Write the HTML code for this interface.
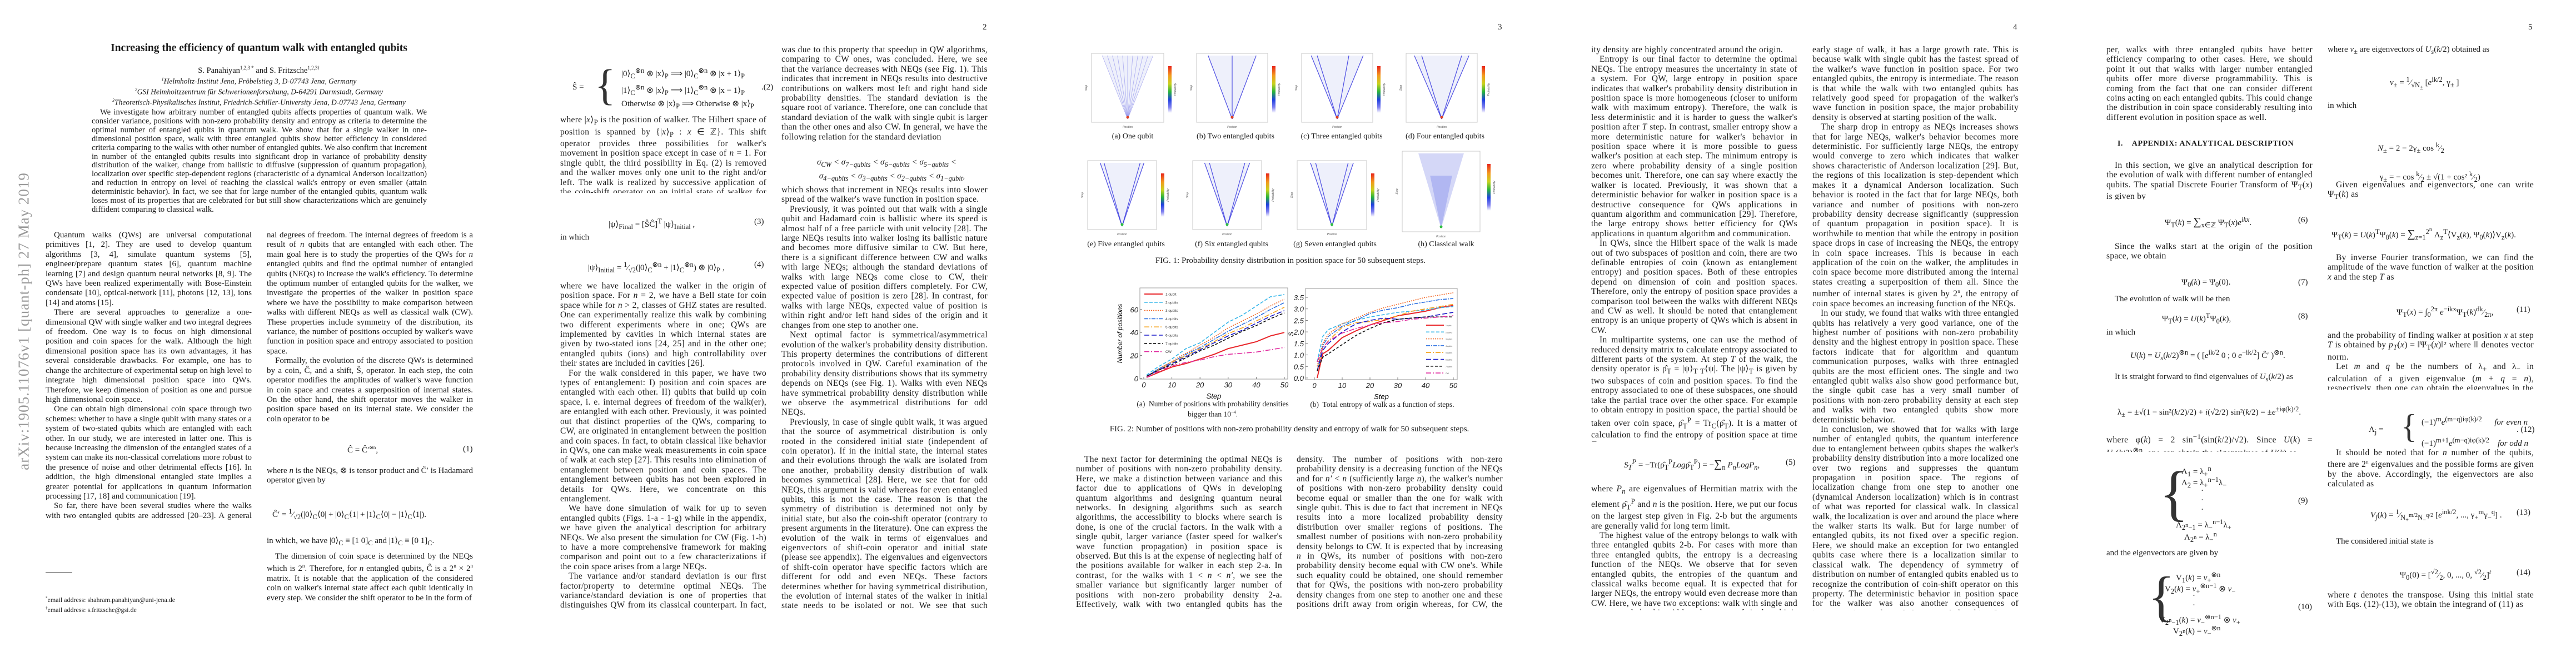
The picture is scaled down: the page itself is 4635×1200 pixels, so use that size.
<!DOCTYPE html>
<html><head><meta charset="utf-8">
<style>
html,body{margin:0;padding:0;background:#fff;}
body{width:4635px;height:1200px;position:relative;overflow:hidden;font-family:"Liberation Serif",serif;color:#1a1a1a;}
.col{position:absolute;width:371px;font-size:15.5px;letter-spacing:0.3px;line-height:17.4px;text-align:justify;overflow:hidden;hyphens:auto;}
.col p{margin:0;text-indent:15px;}
.col p.ni{text-indent:0;}
.p1{font-size:15px;letter-spacing:0;}
.eq{position:absolute;font-size:15px;white-space:nowrap;font-family:"Liberation Serif",serif;}
.pn{position:absolute;top:41px;font-size:15px;}
.cap{position:absolute;font-size:14px;white-space:nowrap;transform:translateX(-50%);}
i{font-style:italic;}
</style></head><body>

<div style="position:absolute;left:43px;top:578px;transform:translate(-50%,-50%) rotate(-90deg);font-size:27px;color:#9a9a9a;white-space:nowrap;letter-spacing:1px;">arXiv:1905.11076v1  [quant-ph]  27 May 2019</div>

<!-- PAGE 1 -->
<div style="position:absolute;left:466px;top:76px;transform:translateX(-50%);font-size:19.5px;font-weight:bold;white-space:nowrap;">Increasing the efficiency of quantum walk with entangled qubits</div>
<div style="position:absolute;left:466px;top:117px;transform:translateX(-50%);font-size:14.5px;white-space:nowrap;">S. Panahiyan<sup style="font-size:9px">1,2,3 *</sup> and S. Fritzsche<sup style="font-size:9px">1,2,3†</sup></div>
<div style="position:absolute;left:466px;top:135px;transform:translateX(-50%);font-size:13.5px;line-height:15.7px;font-style:italic;text-align:center;white-space:nowrap;"><sup style="font-size:8px">1</sup>Helmholtz-Institut Jena, Fröbelstieg 3, D-07743 Jena, Germany<br><sup style="font-size:8px">2</sup>GSI Helmholtzzentrum für Schwerionenforschung, D-64291 Darmstadt, Germany<br><sup style="font-size:8px">3</sup>Theoretisch-Physikalisches Institut, Friedrich-Schiller-University Jena, D-07743 Jena, Germany</div>
<div class="col p1" style="left:165px;top:195px;width:603px;height:192px;font-size:14.6px;line-height:15.9px;"><p>We investigate how arbitrary number of entangled qubits affects properties of quantum walk. We consider variance, positions with non-zero probability density and entropy as criteria to determine the optimal number of entangled qubits in quantum walk. We show that for a single walker in one-dimensional position space, walk with three entangled qubits show better efficiency in considered criteria comparing to the walks with other number of entangled qubits. We also confirm that increment in number of the entangled qubits results into significant drop in variance of probability density distribution of the walker, change from ballistic to diffusive (suppression of quantum propagation), localization over specific step-dependent regions (characteristic of a dynamical Anderson localization) and reduction in entropy on level of reaching the classical walk's entropy or even smaller (attain deterministic behavior). In fact, we see that for large number of the entangled qubits, quantum walk loses most of its properties that are celebrated for but still show characterizations which are genuinely diffident comparing to classical walk.</p></div>

<div class="col p1" style="left:82px;top:415px;height:522px;"><p>Quantum walks (QWs) are universal computational primitives [1, 2]. They are used to develop quantum algorithms [3, 4], simulate quantum systems [5], engineer/prepare quantum states [6], quantum machine learning [7] and design quantum neural networks [8, 9]. The QWs have been realized experimentally with Bose-Einstein condensate [10], optical-network [11], photons [12, 13], ions [14] and atoms [15].</p><p>There are several approaches to generalize a one-dimensional QW with single walker and two integral degrees of freedom. One way is to focus on high dimensional position and coin spaces for the walk. Although the high dimensional position space has its own advantages, it has several considerable drawbacks. For example, one has to change the architecture of experimental setup on high level to integrate high dimensional position space into QWs. Therefore, we keep dimension of position as one and pursue high dimensional coin space.</p><p>One can obtain high dimensional coin space through two schemes: whether to have a single qubit with many states or a system of two-stated qubits which are entangled with each other. In our study, we are interested in latter one. This is because increasing the dimension of the entangled states of a system can make its non-classical correlations more robust to the presence of noise and other detrimental effects [16]. In addition, the high dimensional entangled state implies a greater potential for applications in quantum information processing [17, 18] and communication [19].</p><p>So far, there have been several studies where the walks with two entangled qubits are addressed [20–23]. A general investigation for arbitrary number of entangled qubits yet to be made. In this paper, we consider a single walker in one dimensional position space with 2<sup style="font-size:9px">n</sup> inter-</p></div>
<div style="position:absolute;left:82px;top:1030px;width:48px;border-top:1px solid #333;"></div>
<div style="position:absolute;left:82px;top:1069px;font-size:12px;line-height:15px;white-space:nowrap;"><sup style="font-size:7px">*</sup>email address: shahram.panahiyan@uni-jena.de<br><sup style="font-size:7px">†</sup>email address: s.fritzsche@gsi.de</div>

<div class="col p1" style="left:480px;top:415px;height:348px;"><p class="ni">nal degrees of freedom. The internal degrees of freedom is a result of <i>n</i> qubits that are entangled with each other. The main goal here is to study the properties of the QWs for <i>n</i> entangled qubits and find the optimal number of entangled qubits (NEQs) to increase the walk's efficiency. To determine the optimum number of entangled qubits for the walker, we investigate the properties of the walker in position space where we have the possibility to make comparison between walks with different NEQs as well as classical walk (CW). These properties include symmetry of the distribution, its variance, the number of positions occupied by walker's wave function in position space and entropy associated to position space.</p><p>Formally, the evolution of the discrete QWs is determined by a coin, Ĉ, and a shift, Ŝ, operator. In each step, the coin operator modifies the amplitudes of walker's wave function in coin space and creates a superposition of internal states. On the other hand, the shift operator moves the walker in position space based on its internal state. We consider the coin operator to be</p></div>
<div class="eq" style="left:625px;top:800px;">Ĉ = Ĉ′<sup style="font-size:9px">⊗n</sup>,</div>
<div class="eq" style="left:833px;top:800px;">(1)</div>
<div class="col p1" style="left:480px;top:839px;height:35px;"><p class="ni">where <i>n</i> is the NEQs, ⊗ is tensor product and Ĉ′ is Hadamard operator given by</p></div>
<div class="eq" style="left:490px;top:913px;">Ĉ′ = <sup>1</sup>⁄<sub>√2</sub>(|0⟩<sub>C</sub>⟨0| + |0⟩<sub>C</sub>⟨1| + |1⟩<sub>C</sub>⟨0| − |1⟩<sub>C</sub>⟨1|).</div>
<div class="eq" style="left:480px;top:963px;">in which, we have |0⟩<sub>C</sub> ≡ [1 0]<sub>C</sub> and |1⟩<sub>C</sub> ≡ [0 1]<sub>C</sub>.</div>
<div class="col p1" style="left:480px;top:993px;height:105px;"><p>The dimension of coin space is determined by the NEQs which is 2<sup style="font-size:9px">n</sup>. Therefore, for <i>n</i> entangled qubits, Ĉ is a 2<sup style="font-size:9px">n</sup> × 2<sup style="font-size:9px">n</sup> matrix. It is notable that the application of the considered coin on walker's internal state affect each qubit identically in every step. We consider the shift operator to be in the form of</p></div>

<!-- PAGE 2 -->
<div class="pn" style="left:1768px;">2</div>
<div class="eq" style="left:1030px;top:112px;line-height:30px;"><span style="position:absolute;left:0;top:30px;">Ŝ =</span><span style="position:absolute;left:40px;top:-4px;font-size:78px;line-height:90px;color:#333;">{</span><span style="position:absolute;left:88px;top:0;">|0⟩<sub>C</sub><sup>⊗n</sup> ⊗ |x⟩<sub>P</sub> ⟹ |0⟩<sub>C</sub><sup>⊗n</sup> ⊗ |x + 1⟩<sub>P</sub></span><span style="position:absolute;left:88px;top:30px;">|1⟩<sub>C</sub><sup>⊗n</sup> ⊗ |x⟩<sub>P</sub> ⟹ |1⟩<sub>C</sub><sup>⊗n</sup> ⊗ |x − 1⟩<sub>P</sub></span><span style="position:absolute;left:340px;top:30px;">.(2)</span><span style="position:absolute;left:88px;top:60px;">Otherwise ⊗ |x⟩<sub>P</sub> ⟹ Otherwise ⊗ |x⟩<sub>P</sub></span></div>
<div class="col" style="left:1008px;top:207px;height:140px;"><p class="ni">where |<i>x</i>⟩<sub>P</sub> is the position of walker. The Hilbert space of position is spanned by {|<i>x</i>⟩<sub>P</sub> : <i>x</i> ∈ ℤ}. This shift operator provides three possibilities for walker's movement in position space except in case of <i>n</i> = 1. For single qubit, the third possibility in Eq. (2) is removed and the walker moves only one unit to the right and/or left. The walk is realized by successive application of the coin-shift operator on an initial state of walker for arbitrary times, <i>T</i>,</p></div>
<div class="eq" style="left:1095px;top:391px;">|ψ⟩<sub>Final</sub> = [ŜĈ]<sup>T</sup> |ψ⟩<sub>Initial</sub> ,</div>
<div class="eq" style="left:1357px;top:391px;">(3)</div>
<div class="eq" style="left:1008px;top:419px;">in which</div>
<div class="eq" style="left:1058px;top:468px;">|ψ⟩<sub>Initial</sub> = <sup>1</sup>⁄<sub>√2</sub>(|0⟩<sub>C</sub><sup>⊗n</sup> + |1⟩<sub>C</sub><sup>⊗n</sup>) ⊗ |0⟩<sub>P</sub> ,</div>
<div class="eq" style="left:1357px;top:468px;">(4)</div>
<div class="col" style="left:1008px;top:506px;height:592px;"><p class="ni">where we have localized the walker in the origin of position space. For <i>n</i> = 2, we have a Bell state for coin space while for <i>n</i> &gt; 2, classes of GHZ states are resulted. One can experimentally realize this walk by combining two different experiments where in one; QWs are implemented by cavities in which internal states are given by two-stated ions [24, 25] and in the other one; entangled qubits (ions) and high controllability over their states are included in cavities [26].</p><p>For the walk considered in this paper, we have two types of entanglement: I) position and coin spaces are entangled with each other. II) qubits that build up coin space, i. e. internal degrees of freedom of the walk(er), are entangled with each other. Previously, it was pointed out that distinct properties of the QWs, comparing to CW, are originated in entanglement between the position and coin spaces. In fact, to obtain classical like behavior in QWs, one can make weak measurements in coin space of walk at each step [27]. This results into elimination of entanglement between position and coin spaces. The entanglement between qubits has not been explored in details for QWs. Here, we concentrate on this entanglement.</p><p>We have done simulation of walk for up to seven entangled qubits (Figs. 1-a - 1-g) while in the appendix, we have given the analytical description for arbitrary NEQs. We also present the simulation for CW (Fig. 1-h) to have a more comprehensive framework for making comparison and point out to a few characterizations if the coin space arises from a large NEQs.</p><p>The variance and/or standard deviation is our first factor/property to determine optimal NEQs. The variance/standard deviation is one of properties that distinguishes QW from its classical counterpart. In fact, it</p></div>
<div class="col" style="left:1406px;top:81px;height:175px;"><p class="ni">was due to this property that speedup in QW algorithms, comparing to CW ones, was concluded. Here, we see that the variance decreases with NEQs (see Fig. 1). This indicates that increment in NEQs results into destructive contributions on walkers most left and right hand side probability densities. The standard deviation is the square root of variance. Therefore, one can conclude that standard deviation of the walk with single qubit is larger than the other ones and also CW. In general, we have the following relation for the standard deviation</p></div>
<div class="eq" style="left:1470px;top:282px;line-height:21px;font-style:italic;">σ<sub>CW</sub> &lt; σ<sub>7−qubits</sub> &lt; σ<sub>6−qubits</sub> &lt; σ<sub>5−qubits</sub> &lt;<br>&nbsp;σ<sub>4−qubits</sub> &lt; σ<sub>3−qubits</sub> &lt; σ<sub>2−qubits</sub> &lt; σ<sub>1−qubit</sub>,</div>
<div class="col" style="left:1406px;top:333px;height:766px;"><p class="ni">which shows that increment in NEQs results into slower spread of the walker's wave function in position space.</p><p>Previously, it was pointed out that walk with a single qubit and Hadamard coin is ballistic where its speed is almost half of a free particle with unit velocity [28]. The large NEQs results into walker losing its ballistic nature and becomes more diffusive similar to CW. But here, there is a significant difference between CW and walks with large NEQs; although the standard deviations of walks with large NEQs come close to CW, their expected value of position differs completely. For CW, expected value of position is zero [28]. In contrast, for walks with large NEQs, expected value of position is within right and/or left hand sides of the origin and it changes from one step to another one.</p><p>Next optimal factor is symmetrical/asymmetrical evolution of the walker's probability density distribution. This property determines the contributions of different protocols involved in QW. Careful examination of the probability density distributions shows that its symmetry depends on NEQs (see Fig. 1). Walks with even NEQs have symmetrical probability density distribution while we observe the asymmetrical distributions for odd NEQs.</p><p>Previously, in case of single qubit walk, it was argued that the source of asymmetrical distribution is only rooted in the considered initial state (independent of coin operator). If in the initial state, the internal states and their evolutions through the walk are isolated from one another, probability density distribution of walk becomes symmetrical [28]. Here, we see that for odd NEQs, this argument is valid whereas for even entangled qubits, this is not the case. The reason is that the symmetry of distribution is determined not only by initial state, but also the coin-shift operator (contrary to present arguments in the literature). One can express the evolution of the walk in terms of eigenvalues and eigenvectors of shift-coin operator and initial state (please see appendix). The eigenvalues and eigenvectors of shift-coin operator have specific factors which are different for odd and even NEQs. These factors determines whether for having symmetrical distribution, the evolution of internal states of the walker in initial state needs to be isolated or not. We see that such isolation is necessary for odd NEQs.</p></div>

<!-- PAGE 3 -->
<div class="pn" style="left:2695px;">3</div>
<div class="cap" style="left:2038px;top:238px;">(a) One qubit</div>
<div class="cap" style="left:2223px;top:238px;">(b) Two entangled qubits</div>
<div class="cap" style="left:2414px;top:238px;">(c) Three entangled qubits</div>
<div class="cap" style="left:2600px;top:238px;">(d) Four entangled qubits</div>
<div class="cap" style="left:2026px;top:432px;">(e) Five entangled qubits</div>
<div class="cap" style="left:2216px;top:432px;">(f) Six entangled qubits</div>
<div class="cap" style="left:2402px;top:432px;">(g) Seven entangled qubits</div>
<div class="cap" style="left:2602px;top:432px;">(h) Classical walk</div>
<div class="cap" style="left:2322px;top:461px;font-size:15px;">FIG. 1: Probability density distribution in position space for 50 subsequent steps.</div>
<div class="cap" style="left:2182px;top:720px;font-size:13.5px;line-height:14.5px;text-align:center;">(a)&nbsp; Number of positions with probability densities<br>bigger than 10<sup style="font-size:8px">−4</sup>.</div>
<div class="cap" style="left:2487px;top:720px;font-size:13.5px;">(b)&nbsp; Total entropy of walk as a function of steps.</div>
<div class="cap" style="left:2320px;top:764px;font-size:15px;">FIG. 2: Number of positions with non-zero probability density and entropy of walk for 50 subsequent steps.</div>
<div class="col" style="left:1936px;top:818px;height:280px;"><p>The next factor for determining the optimal NEQs is number of positions with non-zero probability density. Here, we make a distinction between variance and this factor due to applications of QWs in developing quantum algorithms and designing quantum neural networks. In designing algorithms such as search algorithms, the accessibility to blocks where search is done, is one of the crucial factors. In the walk with a single qubit, larger variance (faster speed for walker's wave function propagation) in position space is observed. But this is at the expense of neglecting half of the positions available for walker in each step 2-a. In contrast, for the walks with 1 &lt; <i>n</i> &lt; <i>n′</i>, we see the smaller variance but significantly larger number of positions with non-zero probability density 2-a. Effectively, walk with two entangled qubits has the largest number of positions with non-zero probability</p></div>
<div class="col" style="left:2333px;top:818px;height:280px;"><p class="ni">density. The number of positions with non-zero probability density is a decreasing function of the NEQs and for <i>n′</i> &lt; <i>n</i> (sufficiently large <i>n</i>), the walker's number of positions with non-zero probability density could become equal or smaller than the one for walk with single qubit. This is due to fact that increment in NEQs results into a more localized probability density distribution over smaller regions of positions. The smallest number of positions with non-zero probability density belongs to CW. It is expected that by increasing <i>n</i> in QWs, its number of positions with non-zero probability density become equal with CW one's. While such equality could be obtained, one should remember that for QWs, the positions with non-zero probability density changes from one step to another one and these positions drift away from origin whereas, for CW, the positions with non-zero probabil-</p></div>

<!-- PAGE 4 -->
<div class="pn" style="left:3622px;">4</div>
<div class="col" style="left:2863px;top:81px;height:714px;"><p class="ni">ity density are highly concentrated around the origin.</p><p>Entropy is our final factor to determine the optimal NEQs. The entropy measures the uncertainty in state of a system. For QW, large entropy in position space indicates that walker's probability density distribution in position space is more homogeneous (closer to uniform walk with maximum entropy). Therefore, the walk is less deterministic and it is harder to guess the walker's position after <i>T</i> step. In contrast, smaller entropy show a more deterministic nature for walker's behavior in position space where it is more possible to guess walker's position at each step. The minimum entropy is zero where probability density of a single position becomes unit. Therefore, one can say where exactly the walker is located. Previously, it was shown that a deterministic behavior for walker in position space is a destructive consequence for QWs applications in quantum algorithm and communication [29]. Therefore, the large entropy shows better efficiency for QWs applications in quantum algorithm and communication.</p><p>In QWs, since the Hilbert space of the walk is made out of two subspaces of position and coin, there are two definable entropies of coin (known as entanglement entropy) and position spaces. Both of these entropies depend on dimension of coin and position spaces. Therefore, only the entropy of position space provides a comparison tool between the walks with different NEQs and CW as well. It should be noted that entanglement entropy is an unique property of QWs which is absent in CW.</p><p>In multipartite systems, one can use the method of reduced density matrix to calculate entropy associated to different parts of the system. At step <i>T</i> of the walk, the density operator is ρ̂<sub>T</sub> = |ψ⟩<sub>T T</sub>⟨ψ|. The |ψ⟩<sub>T</sub> is given by two subspaces of coin and position spaces. To find the entropy associated to one of these subspaces, one should take the partial trace over the other space. For example to obtain entropy in position space, the partial should be taken over coin space, ρ̂<sub>T</sub><sup>P</sup> = Tr<sub>C</sub>(ρ̂<sub>T</sub>). It is a matter of calculation to find the entropy of position space at time <i>T</i> as</p></div>
<div class="eq" style="left:2922px;top:824px;"><i>S<sub>T</sub><sup>P</sup></i> = −Tr(ρ̂<sub>T</sub><sup>P</sup><i>Log</i>ρ̂<sub>T</sub><sup>P</sup>) = −<span style="font-size:20px">∑</span><sub>n</sub> <i>P<sub>n</sub>LogP<sub>n</sub></i>,</div>
<div class="eq" style="left:3213px;top:824px;">(5)</div>
<div class="col" style="left:2863px;top:871px;height:227px;"><p class="ni">where <i>P<sub>n</sub></i> are eigenvalues of Hermitian matrix with the element ρ̂<sub>T</sub><sup>P</sup> and <i>n</i> is the position. Here, we put our focus on the largest step given in Fig. 2-b but the arguments are generally valid for long term limit.</p><p>The highest value of the entropy belongs to walk with three entangled qubits 2-b. For cases with more than three entangled qubits, the entropy is a decreasing function of the NEQs. We observe that for seven entangled qubits, the entropies of the quantum and classical walks become equal. It is expected that for larger NEQs, the entropy would even decrease more than CW. Here, we have two exceptions: walk with single and two entangled qubits. Although entropy of single qubit is small at</p></div>
<div class="col" style="left:3261px;top:81px;height:1017px;"><p class="ni">early stage of walk, it has a large growth rate. This is because walk with single qubit has the fastest spread of the walker's wave function in position space. For two entangled qubits, the entropy is intermediate. The reason is that while the walk with two entangled qubits has relatively good speed for propagation of the walker's wave function in position space, the major probability density is observed at starting position of the walk.</p><p>The sharp drop in entropy as NEQs increases shows that for large NEQs, walker's behavior becomes more deterministic. For sufficiently large NEQs, the entropy would converge to zero which indicates that walker shows characteristic of Anderson localization [29]. But, the regions of this localization is step-dependent which makes it a dynamical Anderson localization. Such behavior is rooted in the fact that for large NEQs, both variance and number of positions with non-zero probability density decrease significantly (suppression of quantum propagation in position space). It is worthwhile to mention that while the entropy in position space drops in case of increasing the NEQs, the entropy in coin space increases. This is because in each application of the coin on the walker, the amplitudes in coin space become more distributed among the internal states creating a superposition of them all. Since the number of internal states is given by 2<sup style="font-size:9px">n</sup>, the entropy of coin space becomes an increasing function of the NEQs.</p><p>In our study, we found that walks with three entangled qubits has relatively a very good variance, one of the highest number of positions with non-zero probability density and the highest entropy in position space. These factors indicate that for algorithm and quantum communication purposes, walks with three entnagled qubits are the most efficient ones. The single and two entangled qubit walks also show good performance but, the single qubit case has a very small number of positions with non-zero probability density at each step and walks with two entangled qubits show more deterministic behavior.</p><p>In conclusion, we showed that for walks with large number of entangled qubits, the quantum interference due to entanglement between qubits shapes the walker's probability density distribution into a more localized one over two regions and suppresses the quantum propagation in position space. The regions of localization change from one step to another one (dynamical Anderson localization) which is in contrast of what was reported for classical walk. In classical walk, the localization is over and around the place where the walker starts its walk. But for large number of entangled qubits, its not fixed over a specific region. Here, we should make an exception for two entangled qubits case where there is a localization similar to classical walk. The dependency of symmetry of distribution on number of entangled qubits enabled us to recognize the contribution of coin-shift operator on this property. The deterministic behavior in position space for the walker was also another consequences of increment in number of the entangled qubits. It was highlighted that based on considered criteria in this pa-</p></div>

<!-- PAGE 5 -->
<div class="pn" style="left:4549px;">5</div>
<div class="col" style="left:3790px;top:81px;height:140px;"><p class="ni">per, walks with three entangled qubits have better efficiency comparing to other cases. Here, we should point it out that walks with larger number entangled qubits offer more diverse programmability. This is coming from the fact that one can consider different coins acting on each entangled qubits. This could change the distribution in coin space considerably resulting into different evolution in position space as well.</p></div>
<div class="eq" style="left:3810px;top:251px;font-weight:bold;font-size:14px;letter-spacing:0.6px;">I.&nbsp;&nbsp;&nbsp; APPENDIX: ANALYTICAL DESCRIPTION</div>
<div class="col" style="left:3790px;top:289px;height:70px;"><p>In this section, we give an analytical description for the evolution of walk with different number of entangled qubits. The spatial Discrete Fourier Transform of Ψ<sub>T</sub>(<i>x</i>) is given by</p></div>
<div class="eq" style="left:3895px;top:388px;">Ψ<sub>T</sub>(<i>k</i>) = <span style="font-size:20px">∑</span><sub>x∈ℤ</sub> Ψ<sub>T</sub>(<i>x</i>)<i>e<sup>ikx</sup></i>.</div>
<div class="eq" style="left:4135px;top:388px;">(6)</div>
<div class="col" style="left:3790px;top:435px;height:36px;"><p>Since the walks start at the origin of the position space, we obtain</p></div>
<div class="eq" style="left:3925px;top:500px;">Ψ<sub>0</sub>(<i>k</i>) = Ψ<sub>0</sub>(0).</div>
<div class="eq" style="left:4135px;top:500px;">(7)</div>
<div class="eq" style="left:3805px;top:530px;">The evolution of walk will be then</div>
<div class="eq" style="left:3890px;top:561px;">Ψ<sub>T</sub>(<i>k</i>) = <i>U</i>(<i>k</i>)<sup>T</sup>Ψ<sub>0</sub>(<i>k</i>),</div>
<div class="eq" style="left:4135px;top:561px;">(8)</div>
<div class="eq" style="left:3790px;top:590px;">in which</div>
<div class="eq" style="left:3833px;top:626px;"><i>U</i>(<i>k</i>) = <i>U<sub>s</sub></i>(<i>k</i>/2)<sup>⊗n</sup> = ( [<i>e</i><sup>ik/2</sup> 0 ; 0 <i>e</i><sup>−ik/2</sup>] Ĉ′ )<sup>⊗n</sup>.</div>
<div class="eq" style="left:3805px;top:670px;">It is straight forward to find eigenvalues of <i>U<sub>s</sub></i>(<i>k</i>/2) as</div>
<div class="eq" style="left:3810px;top:729px;">λ<sub>±</sub> = ±√(1 − sin²(<i>k</i>/2)/2) + <i>i</i>(√2/2) sin²(<i>k</i>/2) = ±<i>e</i><sup>±iφ(k)/2</sup>.</div>
<div class="col" style="left:3790px;top:777px;height:36px;"><p class="ni">where φ(<i>k</i>) = 2 sin<sup>−1</sup>(sin(<i>k</i>/2)/√2). Since <i>U</i>(<i>k</i>) = <i>U<sub>s</sub></i>(<i>k</i>/2)<sup>⊗n</sup>, one can obtain the eigenvalues of <i>U</i>(<i>k</i>) as</p></div>
<div class="eq" style="left:3905px;top:835px;line-height:17px;"><span style="position:absolute;left:-20px;top:-8px;font-size:110px;line-height:120px;color:#333;">{</span><span style="position:absolute;left:20px;top:0;">Λ<sub>1</sub> = λ<sub>+</sub><sup>n</sup></span><span style="position:absolute;left:20px;top:20px;">Λ<sub>2</sub> = λ<sub>+</sub><sup>n−1</sup>λ<sub>−</sub></span><span style="position:absolute;left:55px;top:40px;">·<br>·<br>·</span><span style="position:absolute;left:10px;top:96px;">Λ<sub>2<sup>n</sup>−1</sub> = λ<sub>−</sub><sup>n−1</sup>λ<sub>+</sub></span><span style="position:absolute;left:25px;top:118px;">Λ<sub>2<sup>n</sup></sub> = λ<sub>−</sub><sup>n</sup></span><span style="position:absolute;left:230px;top:58px;">(9)</span></div>
<div class="eq" style="left:3790px;top:987px;">and the eigenvectors are given by</div>
<div class="eq" style="left:3885px;top:1026px;line-height:17px;"><span style="position:absolute;left:-20px;top:-8px;font-size:100px;line-height:110px;color:#333;">{</span><span style="position:absolute;left:30px;top:0;">V<sub>1</sub>(<i>k</i>) = <i>v</i><sub>+</sub><sup>⊗n</sup></span><span style="position:absolute;left:10px;top:20px;">V<sub>2</sub>(<i>k</i>) = <i>v</i><sub>+</sub><sup>⊗n−1</sup> ⊗ <i>v</i><sub>−</sub></span><span style="position:absolute;left:60px;top:38px;">·<br>·</span><span style="position:absolute;left:0;top:76px;">V<sub>2<sup>n</sup>−1</sub>(<i>k</i>) = <i>v</i><sub>−</sub><sup>⊗n−1</sup> ⊗ <i>v</i><sub>+</sub></span><span style="position:absolute;left:25px;top:96px;">V<sub>2<sup>n</sup></sub>(<i>k</i>) = <i>v</i><sub>−</sub><sup>⊗n</sup></span><span style="position:absolute;left:250px;top:58px;">(10)</span></div>

<div class="eq" style="left:4188px;top:81px;">where <i>v</i><sub>±</sub> are eigenvectors of <i>U<sub>s</sub></i>(<i>k</i>/2) obtained as</div>
<div class="eq" style="left:4300px;top:136px;"><i>v</i><sub>±</sub> = <sup>1</sup>⁄<sub>√N<sub>±</sub></sub> [<i>e</i><sup>ik/2</sup>, γ<sub>±</sub> ]</div>
<div class="eq" style="left:4188px;top:182px;">in which</div>
<div class="eq" style="left:4278px;top:240px;line-height:42px;"><i>N</i><sub>±</sub> = 2 − 2γ<sub>±</sub> cos <sup>k</sup>⁄<sub>2</sub><br>&nbsp;γ<sub>±</sub> = − cos <sup>k</sup>⁄<sub>2</sub> ± √(1 + cos² <sup>k</sup>⁄<sub>2</sub>)</div>
<div class="col" style="left:4188px;top:324px;height:36px;"><p>Given eigenvalues and eigenvectors, one can write Ψ<sub>T</sub>(<i>k</i>) as</p></div>
<div class="eq" style="left:4195px;top:408px;">Ψ<sub>T</sub>(<i>k</i>) = <i>U</i>(<i>k</i>)<sup>T</sup>Ψ<sub>0</sub>(<i>k</i>) = <span style="font-size:20px">∑</span><sub>z=1</sub><sup>2<sup>n</sup></sup> Λ<sub>z</sub><sup>T</sup>⟨V<sub>z</sub>(<i>k</i>), Ψ<sub>0</sub>(<i>k</i>)⟩V<sub>z</sub>(<i>k</i>).</div>
<div class="col" style="left:4188px;top:455px;height:54px;"><p>By inverse Fourier transformation, we can find the amplitude of the wave function of walker at the position <i>x</i> and the step <i>T</i> as</p></div>
<div class="eq" style="left:4312px;top:549px;">Ψ<sub>T</sub>(<i>x</i>) = ∫<sub>0</sub><sup>2π</sup> <i>e</i><sup>−ikx</sup>Ψ<sub>T</sub>(<i>k</i>)<sup>dk</sup>⁄<sub>2π</sub>,</div>
<div class="eq" style="left:4528px;top:549px;">(11)</div>
<div class="col" style="left:4188px;top:595px;height:106px;"><p class="ni">and the probability of finding walker at position <i>x</i> at step <i>T</i> is obtained by <i>p<sub>T</sub></i>(<i>x</i>) = ‖Ψ<sub>T</sub>(<i>x</i>)‖² where ‖‖ denotes vector norm.</p><p>Let <i>m</i> and <i>q</i> be the numbers of λ<sub>+</sub> and λ<sub>−</sub> in calculation of a given eigenvalue (<i>m</i> + <i>q</i> = <i>n</i>), respectively, then one can obtain the eigenvalues in the following form</p></div>
<div class="eq" style="left:4262px;top:735px;line-height:38px;"><span style="position:absolute;left:0;top:19px;">Λ<sub>j</sub> =</span><span style="position:absolute;left:58px;top:-4px;font-size:60px;line-height:72px;color:#333;">{</span><span style="position:absolute;left:95px;top:0;white-space:nowrap;">(−1)<sup>m</sup><i>e</i><sup>(m−q)iφ(k)/2</sup>&nbsp;&nbsp;&nbsp;&nbsp;&nbsp; <i>for even n</i></span><span style="position:absolute;left:95px;top:38px;white-space:nowrap;">(−1)<sup>m+1</sup><i>e</i><sup>(m−q)iφ(k)/2</sup>&nbsp;&nbsp;&nbsp; <i>for odd n</i></span><span style="position:absolute;left:266px;top:19px;">. (12)</span></div>
<div class="col" style="left:4188px;top:806px;height:72px;"><p>It should be noted that for <i>n</i> number of the qubits, there are 2<sup style="font-size:9px">n</sup> eigenvalues and the possible forms are given by the above. Accordingly, the eigenvectors are also calculated as</p></div>
<div class="eq" style="left:4265px;top:914px;"><i>V<sub>j</sub></i>(<i>k</i>) = <sup>1</sup>⁄<sub>N<sub>+</sub><sup>m/2</sup>N<sub>−</sub><sup>q/2</sup></sub> [<i>e</i><sup>ink/2</sup>, ..., γ<sub>+</sub><sup>m</sup>γ<sub>−</sub><sup>q</sup>] .</div>
<div class="eq" style="left:4528px;top:914px;">(13)</div>
<div class="eq" style="left:4203px;top:966px;">The considered initial state is</div>
<div class="eq" style="left:4318px;top:1022px;">Ψ<sub>0</sub>(0) = [<sup>√2</sup>⁄<sub>2</sub>, 0, ..., 0, <sup>√2</sup>⁄<sub>2</sub>]<sup><i>t</i></sup></div>
<div class="eq" style="left:4528px;top:1022px;">(14)</div>
<div class="col" style="left:4188px;top:1062px;height:36px;"><p class="ni">where <i>t</i> denotes the transpose. Using this initial state with Eqs. (12)-(13), we obtain the integrand of (11) as</p></div>

<svg id="figs" width="4635" height="1200" style="position:absolute;left:0;top:0;" xmlns="http://www.w3.org/2000/svg">
<defs>
<linearGradient id="cbar" x1="0" y1="0" x2="0" y2="1">
<stop offset="0" stop-color="#e8261c"/><stop offset="0.2" stop-color="#f39a1e"/><stop offset="0.38" stop-color="#c8d21e"/><stop offset="0.55" stop-color="#28b43c"/><stop offset="0.72" stop-color="#2040e0"/><stop offset="0.88" stop-color="#8080f0"/><stop offset="1" stop-color="#ffffff"/>
</linearGradient>
</defs>
<g id="fig1"></g>
<g id="fig2"></g>
</svg>

<script>
// ---------- Figure 2 data ----------
const stepsA = [1, 5, 10, 15, 20, 25, 30, 35, 40, 45, 50];
const posQ1 = [1, 5, 10, 13, 17, 21, 26, 29, 32, 37, 40];
const posQ2 = [3, 10, 17, 26, 31, 40, 49, 55, 63, 71, 73];
const posQ3 = [2, 8, 15, 22, 29, 36, 44, 50, 56, 63, 69];
const posQ4 = [2, 8, 14, 21, 27, 34, 41, 47, 53, 60, 66];
const posQ5 = [2, 7, 14, 20, 26, 32, 39, 44, 50, 56, 62];
const posQ6 = [2, 7, 13, 19, 25, 31, 37, 42, 48, 54, 59];
const posQ7 = [2, 7, 12, 18, 24, 29, 35, 41, 46, 52, 57];
const posCW = [1, 6, 11, 14, 16, 19, 21, 22, 23, 25, 27];
const stepsB = [1, 3, 5, 10, 15, 20, 25, 30, 35, 40, 45, 50];
const entQ1 = [0.0, 1.05, 1.2, 1.75, 2.05, 2.3, 2.5, 2.7, 2.8, 2.9, 3.05, 3.15];
const entQ2 = [0.7, 1.8, 2.1, 2.35, 2.5, 2.65, 2.75, 2.85, 2.9, 2.95, 3.05, 3.1];
const entQ3 = [0.5, 1.5, 1.9, 2.35, 2.6, 2.85, 3.05, 3.2, 3.35, 3.5, 3.6, 3.7];
const entQ4 = [0.3, 1.4, 1.8, 2.25, 2.5, 2.8, 2.95, 3.05, 3.2, 3.3, 3.4, 3.45];
const entQ5 = [0.3, 1.3, 1.6, 2.2, 2.4, 2.45, 2.55, 2.7, 2.9, 3.0, 3.1, 3.2];
const entQ6 = [0.3, 1.2, 1.5, 2.0, 2.35, 2.5, 2.6, 2.55, 2.6, 2.65, 2.75, 2.85];
const entQ7 = [0.3, 0.9, 1.05, 1.45, 1.85, 2.15, 2.4, 2.55, 2.6, 2.65, 2.65, 2.65];
const entCW = [0.7, 1.3, 1.6, 1.95, 2.15, 2.3, 2.4, 2.45, 2.55, 2.6, 2.65, 2.7];
const seriesLabels = ["1 qubit", "2 qubits", "3 qubits", "4 qubits", "5 qubits", "6 qubits", "7 qubits", "CW"];
const xTicks = [0, 10, 20, 30, 40, 50];
const yTicksA = [0, 20, 40, 60];
const yTicksB = [0.0, 0.5, 1.0, 1.5, 2.0, 2.5, 3.0, 3.5];

const NS = "http://www.w3.org/2000/svg";
const colors = ["#e8262a", "#35b6ea", "#f26a2a", "#2a6fe0", "#f5a41f", "#1818c8", "#111111", "#e0299e"];
const dashes = ["", "6,3", "2,2", "7,2,2,2", "9,3,2,3", "9,4", "5,3", "9,3,2,3"];

function mk(tag, attrs, parent) {
  const e = document.createElementNS(NS, tag);
  for (const k in attrs) e.setAttribute(k, attrs[k]);
  parent.appendChild(e);
  return e;
}

const A = {x0: 2051, x1: 2317, y0: 518, y1: 682};
const B = {x0: 2349, x1: 2622, y0: 519, y1: 683};
function xA(v) { return 2058 + v * (253 / 50); }
function yA(v) { return 681 - v * 2.07; }
function xB(v) { return 2365 + v * (250 / 50); }
function yB(v) { return 680 - v * (145 / 3.5); }

const g2 = document.getElementById("fig2");

function drawPanel(box, xs, ys, yTicks, seriesList, steps, name, yLabel, fmt) {
  const frame = mk("rect", {x: box.x0, y: box.y0, width: box.x1 - box.x0, height: box.y1 - box.y0, fill: "#fff", stroke: "#999", "stroke-width": 1}, g2);
  
  
  xTicks.forEach(t => {
    const tk = mk("line", {x1: xs(t), x2: xs(t), y1: box.y1, y2: box.y1 - 4, stroke: "#777"}, g2);
    
    
    const tl = mk("text", {x: xs(t), y: box.y1 + 15, "font-size": 13, "font-style": "italic", "text-anchor": "middle", "font-family": "Liberation Sans, sans-serif", fill: "#222"}, g2);
    tl.textContent = t;
    
    
  });
  yTicks.forEach(t => {
    const tk = mk("line", {x1: box.x0, x2: box.x0 + 4, y1: ys(t), y2: ys(t), stroke: "#777"}, g2);
    
    
    const tl = mk("text", {x: box.x0 - 3, y: ys(t) + 5, "font-size": 13, "font-style": "italic", "text-anchor": "end", "font-family": "Liberation Sans, sans-serif", fill: "#222"}, g2);
    tl.textContent = fmt(t);
    
    
  });
  const xl = mk("text", {x: (box.x0 + box.x1) / 2, y: box.y1 + 35, "font-size": 13, "font-style": "italic", "text-anchor": "middle", "font-family": "Liberation Sans, sans-serif"}, g2);
  xl.textContent = "Step";
  
  
  const yx = box.x0 - (yLabel === "S" ? 22 : 32);
  const yl = mk("text", {x: yx, y: (box.y0 + box.y1) / 2, "font-size": 12, "font-style": "italic", "text-anchor": "middle", "font-family": "Liberation Sans, sans-serif", transform: "rotate(-90 " + yx + " " + ((box.y0 + box.y1) / 2) + ")"}, g2);
  yl.textContent = yLabel;
  
  
  seriesList.forEach((vals, i) => {
    const pts = vals.map((v, j) => xs(steps[j]).toFixed(1) + "," + ys(v).toFixed(1)).join(" ");
    const pl = mk("polyline", {points: pts, fill: "none", stroke: colors[i], "stroke-width": i === 0 ? 2 : 1.6, "stroke-dasharray": dashes[i]}, g2);
    
    
  });
}

drawPanel(A, xA, yA, yTicksA, [posQ1, posQ2, posQ3, posQ4, posQ5, posQ6, posQ7, posCW], stepsA, "fig2a", "Number of positions", t => t);
drawPanel(B, xB, yB, yTicksB, [entQ1, entQ2, entQ3, entQ4, entQ5, entQ6, entQ7, entCW], stepsB, "fig2b", "S", t => t.toFixed(1));

seriesLabels.forEach((lab, i) => {
  const y = 529 + i * 14.8;
  const ln = mk("line", {x1: 2059, x2: 2092, y1: y, y2: y, stroke: colors[i], "stroke-width": i === 0 ? 2 : 1.6, "stroke-dasharray": dashes[i]}, g2);
  
  
  const tx = mk("text", {x: 2097, y: y + 2.5, "font-size": 6.5, "font-family": "Liberation Sans, sans-serif", fill: "#333"}, g2);
  tx.textContent = lab;
  
  
  const y2 = 585 + i * 12.3;
  const ln2 = mk("line", {x1: 2566, x2: 2598, y1: y2, y2: y2, stroke: colors[i], "stroke-width": i === 0 ? 2 : 1.6, "stroke-dasharray": dashes[i]}, g2);
  
  
  const tx2 = mk("text", {x: 2601, y: y2 + 2, "font-size": 3.5, "font-family": "Liberation Sans, sans-serif", fill: "#555"}, g2);
  tx2.textContent = lab;
  
  
});

// ---------- Figure 1 panels ----------
const panelNames = ["one-qubit", "two-qubits", "three-qubits", "four-qubits", "five-qubits", "six-qubits", "seven-qubits", "classical-walk"];
const panelBeams = [
  [-0.75, -0.6, -0.45, -0.3, -0.15, 0, 0.15, 0.3, 0.45, 0.6, 0.75],
  [-0.72, 0, 0.72],
  [-0.78, -0.6, 0.35, 0.78],
  [-0.82, -0.6, 0.6, 0.82],
  [-0.68, -0.56, 0.56, 0.68],
  [-0.7, -0.55, 0.55, 0.7],
  [-0.66, -0.5, 0.5, 0.66],
  []
];
const panelBoxes = [
  [1964, 96, 130, 124], [2153, 96, 128, 124], [2342, 96, 128, 124], [2530, 96, 128, 124],
  [1957, 289, 124, 124], [2146, 289, 124, 124], [2334, 289, 125, 124], [2523, 272, 140, 145]
];
const g1 = document.getElementById("fig1");
panelBoxes.forEach((b, i) => {
  const [x, y, w, h] = b;
  const cx = x + w / 2, by = y + h - 6, ty = y + 4;
  const grp = mk("g", {}, g1);
  
  
  mk("rect", {x: x, y: y, width: w, height: h, fill: "#fff", stroke: "#c8c8c8", "stroke-width": 1}, grp);
  const hw = w / 2 - 4;
  if (i === 7) {
    mk("polygon", {points: `${cx},${by} ${cx - hw * 0.62},${ty} ${cx + hw * 0.62},${ty}`, fill: "#c9cdf5", opacity: 0.8}, grp);
    mk("polygon", {points: `${cx},${by} ${cx - hw * 0.3},${ty + 40} ${cx + hw * 0.3},${ty + 40}`, fill: "#9aa2ee", opacity: 0.6}, grp);
  } else {
    const beams = panelBeams[i];
    const lo = Math.min(...beams), hi = Math.max(...beams);
    mk("polygon", {points: `${cx},${by} ${cx + hw * lo},${ty} ${cx + hw * hi},${ty}`, fill: "#eef0fb"}, grp);
    beams.forEach(f => {
      mk("line", {x1: cx, y1: by, x2: cx + hw * f, y2: ty, stroke: i === 0 ? "#7d7de8" : "#3a3ae0", "stroke-width": i === 0 ? 0.8 : 1.3, opacity: i === 0 ? 0.6 : 0.85}, grp);
    });
  }
  mk("circle", {cx: cx, cy: by - 3, r: 2.5, fill: i >= 4 ? "#30c040" : "#e04020"}, grp);
  const cbx = i === 7 ? x + w + 13 : x + w + 8;
  const cby = y + 23;
  const cbh = i < 4 ? 84 : (i === 7 ? 84 : 78);
  const cb = mk("rect", {x: cbx, y: cby, width: 6, height: cbh, fill: "url(#cbar)"}, grp);
  
  
  const st = mk("text", {x: x - 8, y: y + h / 2, "font-size": 5, "font-family": "Liberation Sans, sans-serif", "font-style": "italic", fill: "#555", "text-anchor": "middle", transform: `rotate(-90 ${x - 8} ${y + h / 2})`}, grp);
  st.textContent = "Step";
  const ps = mk("text", {x: cx, y: y + h + 10, "font-size": 5, "font-family": "Liberation Sans, sans-serif", "font-style": "italic", fill: "#555", "text-anchor": "middle"}, grp);
  ps.textContent = "Position";
  const pr = mk("text", {x: cbx + 14, y: cby + cbh / 2, "font-size": 5, "font-family": "Liberation Sans, sans-serif", "font-style": "italic", fill: "#555", "text-anchor": "middle", transform: `rotate(-90 ${cbx + 14} ${cby + cbh / 2})`}, grp);
  pr.textContent = "Probability";
});
</script>
</body></html>
